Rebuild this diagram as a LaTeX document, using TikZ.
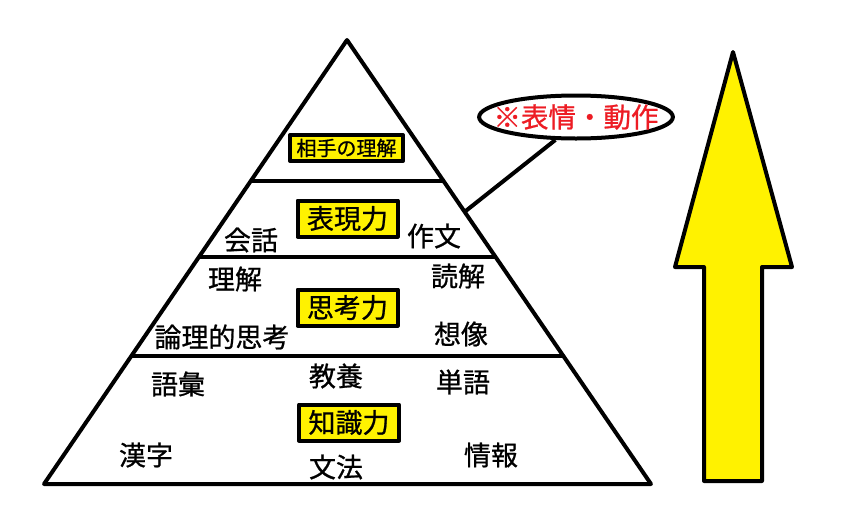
\documentclass[tikz,border=0pt]{standalone}
\usepackage{fontspec}
\newfontfamily\jpfont[FakeBold=0.8]{Noto Sans CJK JP}
\usetikzlibrary{calc,shapes.geometric}

\begin{document}
\begin{tikzpicture}[x=1pt, y=-1pt, line join=round]
    % Define colours
    \definecolor{boxYellow}{HTML}{FFF200}
    \definecolor{noteRed}{HTML}{ED1C24}

    % Define styles
    \tikzset{
        word/.style={font=\jpfont\fontsize{27}{27}\selectfont, inner sep=0pt},
        skill/.style={word, draw, line width=4pt, fill=boxYellow,
            minimum width=100pt, minimum height=36pt},
    }

    \useasboundingbox (0,0) rectangle (868,523);

    % Define pyramid corners
    \coordinate (top) at (347,40);
    \coordinate (bl) at (44,484);
    \coordinate (br) at (651,484);

    % Draw pyramid and its layers
    \draw[line width=4pt] (top) -- (bl) -- (br) -- cycle;
    \foreach \t in {0.318,0.489,0.712}
        \draw[line width=4pt] ($(top)!\t!(bl)$) -- ($(top)!\t!(br)$);

    % Label the layers
    \node[skill, font=\jpfont\fontsize{20}{20}\selectfont,
        minimum width=113pt, minimum height=26pt] (partner) at (346.5,148) {相手の理解};
    \node[skill] (express) at (347.5,218.5) {表現力};
    \node[skill] (think) at (347.5,307.5) {思考力};
    \node[skill] (know) at (349,422.5) {知識力};

    % Words of each layer
    \node[word] (talk) at (251,240) {会話};
    \node[word] (essay) at (434,236) {作文};
    \node[word] (grasp) at (235,279) {理解};
    \node[word] (read) at (458,276) {読解};
    \node[word] (logic) at (222,337) {論理的思考};
    \node[word] (imagine) at (461,334) {想像};
    \node[word] (vocab) at (178,384) {語彙};
    \node[word] (culture) at (336,376) {教養};
    \node[word] (words) at (463,382) {単語};
    \node[word] (kanji) at (146,455) {漢字};
    \node[word] (grammar) at (336,467) {文法};
    \node[word] (info) at (491,455) {情報};

    % Draw note bubble
    \node[ellipse, draw, line width=4pt, fill=white, minimum width=191pt,
        minimum height=43pt, inner xsep=-14pt, inner ysep=2pt, text=noteRed,
        font=\jpfont\fontsize{27.5}{27.5}\selectfont] (note) at (576,117) {※表情・動作};
    \coordinate (edge) at ($(top)!0.387!(br)$);
    \draw[line width=4pt] (note.228) -- (edge);

    % Draw growth arrow
    \filldraw[fill=boxYellow, line width=4pt] (733,52) -- (792,267) -- (762,267)
        -- (762,481) -- (704,481) -- (704,267) -- (675,267) -- cycle;

\end{tikzpicture}
\end{document}
